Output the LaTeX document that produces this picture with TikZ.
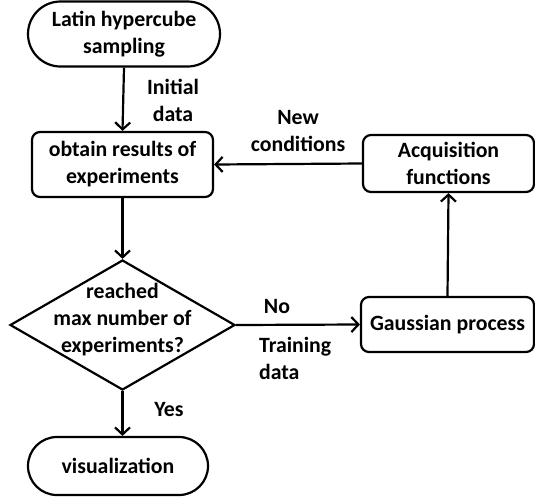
\documentclass[tikz,border=0pt]{standalone}
\usepackage{fontspec}
\setmainfont{Carlito}
\usetikzlibrary{shapes.geometric,shapes.misc,arrows.meta}
\begin{document}
\begin{tikzpicture}[x=1pt,y=-1pt,line width=2.2pt,
  font=\bfseries\fontsize{21.8}{27}\selectfont,
  term/.style={draw,rounded rectangle,align=center,inner sep=0pt},
  proc/.style={draw,rectangle,rounded corners=8pt,align=center,inner sep=0pt},
  dec/.style={draw,diamond,inner sep=0pt,minimum width=225pt,minimum height=130pt},
  lbl/.style={align=center,inner sep=0pt},
  arr/.style={-{Straight Barb[length=7pt,width=15pt,line width=2.2pt]}}]
\useasboundingbox (0,0) rectangle (535,499);
\node[term,minimum width=192pt,minimum height=65pt] (lhs) at (124,34) {Latin hypercube\\sampling};
\node[proc,minimum width=181pt,minimum height=65pt] (obt) at (122.5,164.5) {obtain results of\\experiments};
\node[dec] (dia) at (122.5,325) {};
\node[lbl] (diat) at (122.5,320) {reached\\max number of\\experiments?};
\node[proc,minimum width=173pt,minimum height=55pt] (gp) at (447.5,324.5) {Gaussian process};
\node[proc,minimum width=171pt,minimum height=57pt] (acq) at (448.5,163.5) {Acquisition\\functions};
\node[term,minimum width=180pt,minimum height=58pt] (vis) at (118,466) {visualization};
\node[lbl] (l1) at (173,100) {Initial\\data};
\node[lbl] (l2) at (298,131) {New\\conditions};
\node[lbl] (l3) at (277,307) {No};
\node[lbl,align=left,anchor=west] (l4) at (258,358) {Training\\data};
\node[lbl] (l5) at (169,410) {Yes};
\draw[arr] (lhs.south) -- (obt.north);
\draw[arr] (obt.south) -- (dia.north);
\draw[arr] (dia.east) -- (gp.west);
\draw[arr] (gp.north) -- (acq.south);
\draw[arr] (acq.west) -- (obt.east);
\draw[arr] (dia.south) -- (dia.south |- vis.north);
\end{tikzpicture}
\end{document}
